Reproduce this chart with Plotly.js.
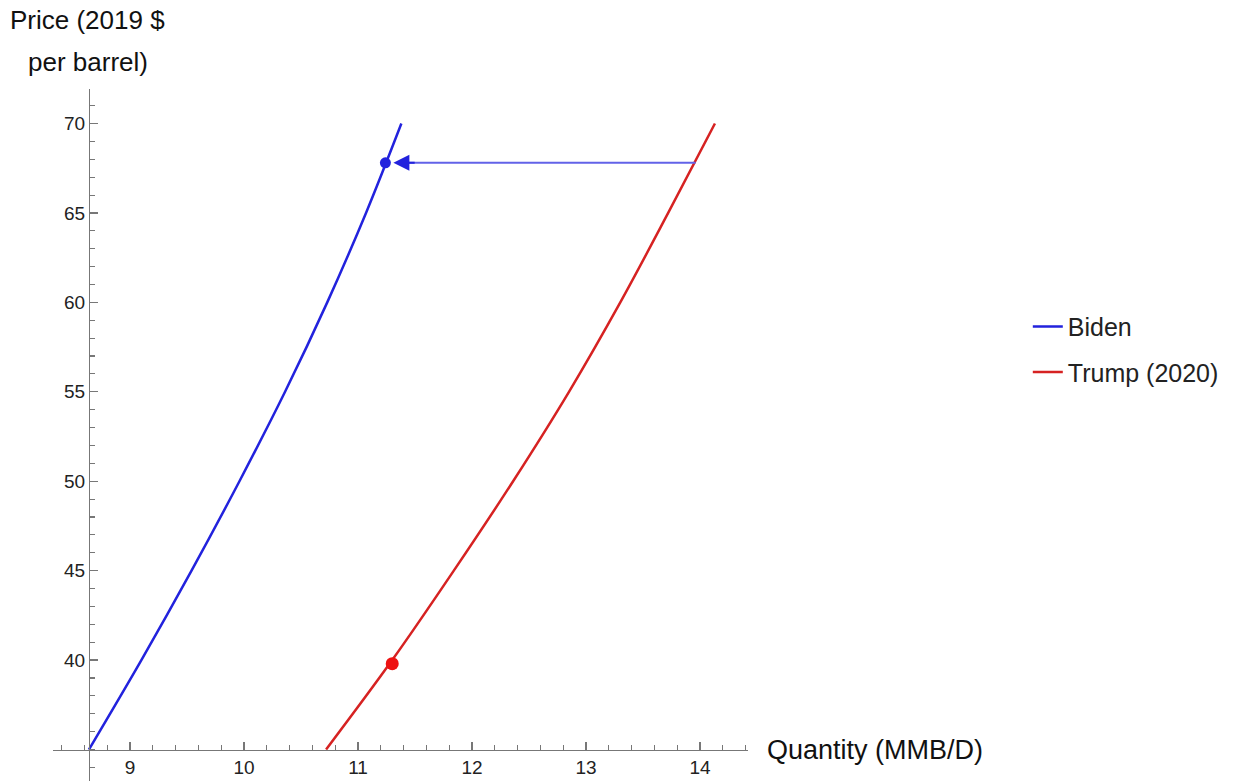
<!DOCTYPE html>
<html>
<head>
<meta charset="utf-8">
<script src="https://cdn.plot.ly/plotly-3.0.1.min.js"></script>
<style>html,body{margin:0;padding:0;background:#fff;}#chart{width:1234px;height:781px;}</style>
</head>
<body>
<div id="chart"></div>
<script>
// Supply curves: price (y) vs quantity (x)
const prices = [35, 40, 45, 50, 55, 60, 65, 70];
const bidenQty = [8.64, 9.10, 9.54, 9.96, 10.36, 10.73, 11.07, 11.38];
const trumpQty = [10.72, 11.30, 11.84, 12.36, 12.85, 13.30, 13.72, 14.13];

// Highlighted points
const bidenPoint = {x: [11.24], y: [67.8]};
const trumpPoint = {x: [11.30], y: [39.8]};

// Arrow (from Trump curve to Biden point at same price)
const arrowFrom = [13.96, 67.8];
const arrowTo = [11.31, 67.8];

const xTickVals = [9, 10, 11, 12, 13, 14];
const yTickVals = [40, 45, 50, 55, 60, 65, 70];

const blue = '#2222dd';
const red = '#d62222';
const FONT = 'Liberation Sans, Arial, Helvetica, sans-serif';

const xRange = [8.325, 14.42];
const yRange = [33.24, 71.93];
const originX = 8.64, originY = 35;

const traces = [
  {x: bidenQty, y: prices, mode: 'lines', name: 'Biden', line: {color: blue, width: 2.5, shape: 'spline', smoothing: 1}, legendgroup: 'a'},
  {x: trumpQty, y: prices, mode: 'lines', name: 'Trump (2020)', line: {color: red, width: 2.5, shape: 'spline', smoothing: 1}, legendgroup: 'b'},
  {x: bidenPoint.x, y: bidenPoint.y, mode: 'markers', marker: {color: blue, size: 11}, showlegend: false},
  {x: trumpPoint.x, y: trumpPoint.y, mode: 'markers', marker: {color: '#ee1111', size: 13}, showlegend: false},
  {x: [arrowFrom[0], arrowTo[0] + 0.1], y: [arrowFrom[1], arrowTo[1]], mode: 'lines', line: {color: '#6262e8', width: 2}, showlegend: false, hoverinfo: 'skip'}
];

const axisCommon = {
  showgrid: false, zeroline: false, showline: true, linecolor: '#777', linewidth: 1.3,
  ticks: 'inside', ticklen: 8, tickcolor: '#777', tickwidth: 1.3,
  tickfont: {family: FONT, size: 19, color: '#222'},
  anchor: 'free', fixedrange: true
};

const layout = {
  width: 1234, height: 781,
  margin: {l: 53, r: 486, t: 89, b: 0, pad: 0},
  paper_bgcolor: '#fff', plot_bgcolor: '#fff',
  showlegend: true,
  legend: {x: 1.4026, y: 0.6896, xanchor: 'left', yanchor: 'top', font: {family: FONT, size: 25, color: '#222'}, traceorder: 'grouped', tracegroupgap: 10, itemwidth: 30},
  xaxis: Object.assign({}, axisCommon, {
    range: xRange, tickvals: xTickVals, ticktext: xTickVals.map(String),
    position: (originY - yRange[0]) / (yRange[1] - yRange[0]),
    minor: {dtick: 0.2, tick0: 0, ticks: 'inside', ticklen: 5, tickcolor: '#777', tickwidth: 1.1}
  }),
  yaxis: Object.assign({}, axisCommon, {
    range: yRange, tickvals: yTickVals, ticktext: yTickVals.map(String),
    position: (originX - xRange[0]) / (xRange[1] - xRange[0]),
    minor: {dtick: 1, tick0: 0, ticks: 'inside', ticklen: 5, tickcolor: '#777', tickwidth: 1.1}
  }),
  annotations: [
    {x: arrowTo[0], y: arrowTo[1], ax: arrowTo[0] + 0.2, ay: arrowTo[1], xref: 'x', yref: 'y', axref: 'x', ayref: 'y',
     showarrow: true, arrowhead: 2, arrowsize: 1.6, arrowwidth: 2, arrowcolor: '#2222dd', text: ''},
    {xref: 'paper', yref: 'paper', x: 1.024, y: (originY - yRange[0]) / (yRange[1] - yRange[0]), xanchor: 'left', yanchor: 'middle',
     text: 'Quantity (MMB/D)', showarrow: false, font: {family: FONT, size: 27, color: '#111'}},
    {xref: 'paper', yref: 'paper', x: 0.05, y: 1.0, xanchor: 'center', yanchor: 'middle', yshift: 69,
     text: 'Price (2019 $', showarrow: false, font: {family: FONT, size: 26, color: '#111'}},
    {xref: 'paper', yref: 'paper', x: 0.05, y: 1.0, xanchor: 'center', yanchor: 'middle', yshift: 27,
     text: 'per barrel)', showarrow: false, font: {family: FONT, size: 26, color: '#111'}}
  ]
};

Plotly.newPlot('chart', traces, layout, {displayModeBar: false, staticPlot: true});
</script>
</body>
</html>
